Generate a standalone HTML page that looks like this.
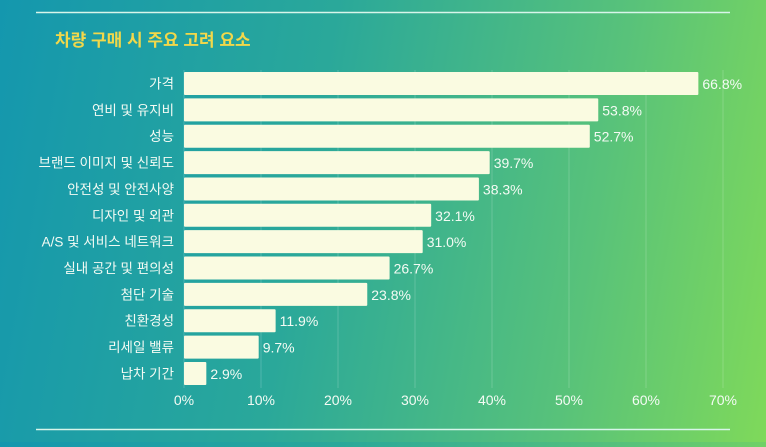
<!DOCTYPE html>
<html><head><meta charset="utf-8"><style>
body{margin:0;width:766px;height:442px;overflow:hidden;background:linear-gradient(100deg,#1497ae 0%,#2aa89a 40%,#58c27a 75%,#7fd95a 100%);font-family:"Liberation Sans","Noto Sans CJK KR",sans-serif;}
</style></head><body>
<svg width="766" height="442">
<line x1="36" y1="12.5" x2="730" y2="12.5" stroke="#d8f5ea" stroke-width="1.5"/>
<line x1="36" y1="429.5" x2="730" y2="429.5" stroke="#d8f5ea" stroke-width="1.5"/>
<text x="55" y="46" fill="#f2d84a" font-size="17" font-weight="bold">차량 구매 시 주요 고려 요소</text>
<g id="grid"></g><g id="bars"></g><g id="axis"></g>
</svg>
<script>
const categories=["가격","연비 및 유지비","성능","브랜드 이미지 및 신뢰도","안전성 및 안전사양","디자인 및 외관","A/S 및 서비스 네트워크","실내 공간 및 편의성","첨단 기술","친환경성","리세일 밸류","납차 기간"];
const values=[66.8,53.8,52.7,39.7,38.3,32.1,31.0,26.7,23.8,11.9,9.7,2.9];
const ticks=[0,10,20,30,40,50,60,70];
const NS="http://www.w3.org/2000/svg";
const x=v=>184+v*(723-184)/70;
const y=i=>72+i*26.36;
function mk(t,a,p){const e=document.createElementNS(NS,t);for(const k in a)e.setAttribute(k,a[k]);p.appendChild(e);return e;}
const g=document.getElementById('grid'),b=document.getElementById('bars'),ax=document.getElementById('axis');
ticks.forEach(t=>{
 const l=mk('line',{x1:x(t),x2:x(t),y1:70,y2:388,stroke:'rgba(255,255,255,0.18)','stroke-width':1},g);
 
 
 const tx=mk('text',{x:x(t),y:405,fill:'#f4fbf4','font-size':14,'text-anchor':'middle'},ax);
 tx.textContent=t+'%';
 
 
});
categories.forEach((c,i)=>{
 const r=mk('rect',{x:x(0),y:y(i),width:x(values[i])-x(0),height:23,fill:'#fafbe1',rx:1},b);
 
 
 const lb=mk('text',{x:174,y:y(i)+16.5,fill:'#f4fbf4','font-size':13.5,'text-anchor':'end'},b);
 lb.textContent=c;
 
 
 const v=mk('text',{x:x(values[i])+4,y:y(i)+17,fill:'#f4fbf4','font-size':14},b);
 v.textContent=values[i].toFixed(1)+'%';
 
 
});
</script>
</body></html>
